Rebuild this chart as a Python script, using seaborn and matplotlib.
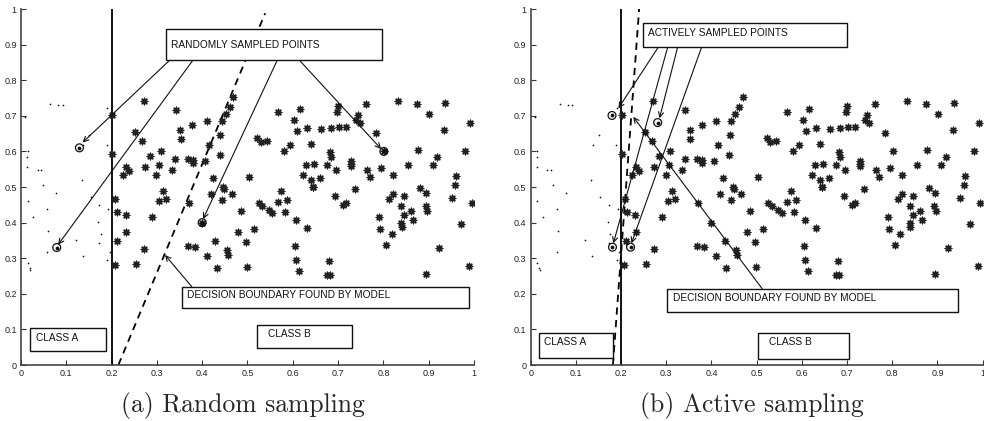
import matplotlib
matplotlib.use('Agg')
import matplotlib.pyplot as plt
from matplotlib.patches import Rectangle
import seaborn as sns
import pandas as pd

# class A points (small dots), left of the true boundary
class_a_x = [0.009, 0.064, 0.082, 0.092, 0.191, 0.151, 0.138, 0.189, 0.015, 0.013,
             0.014, 0.037, 0.044, 0.049, 0.134, 0.078, 0.154, 0.015, 0.173, 0.193,
             0.058, 0.027, 0.171, 0.060, 0.176, 0.121, 0.173, 0.058, 0.196, 0.136,
             0.191, 0.015, 0.019, 0.021]
class_a_y = [0.697, 0.733, 0.729, 0.729, 0.723, 0.647, 0.618, 0.617, 0.602, 0.583,
             0.555, 0.549, 0.549, 0.507, 0.520, 0.484, 0.473, 0.461, 0.450, 0.438,
             0.438, 0.415, 0.403, 0.376, 0.369, 0.352, 0.344, 0.318, 0.318, 0.306,
             0.295, 0.287, 0.272, 0.268]

# class B points (asterisks)
class_b_x = [0.202, 0.271, 0.342, 0.469, 0.461, 0.452, 0.444, 0.410, 0.378, 0.352,
             0.353, 0.252, 0.268, 0.440, 0.415, 0.202, 0.309, 0.284, 0.341, 0.369,
             0.379, 0.380, 0.406, 0.439, 0.305, 0.273, 0.232, 0.239, 0.225, 0.334,
             0.299, 0.425, 0.503, 0.447, 0.568, 0.522, 0.530, 0.542, 0.580, 0.594,
             0.616, 0.603, 0.609, 0.632, 0.662, 0.684, 0.703, 0.718, 0.700, 0.698,
             0.761, 0.745, 0.740, 0.748, 0.784, 0.833, 0.875, 0.936, 0.901, 0.991,
             0.934, 0.876, 0.980, 0.918, 0.909, 0.855, 0.795, 0.763, 0.770, 0.822,
             0.728, 0.728, 0.728, 0.695, 0.676, 0.682, 0.684, 0.641, 0.629, 0.646,
             0.622, 0.641, 0.661, 0.645, 0.960, 0.958, 0.881, 0.737, 0.801,
             0.208, 0.213, 0.231, 0.232, 0.212, 0.207, 0.255, 0.272, 0.290, 0.304,
             0.320, 0.313, 0.371, 0.419, 0.449, 0.444, 0.466, 0.400, 0.368, 0.384,
             0.429, 0.411, 0.433, 0.454, 0.457, 0.478, 0.497, 0.499, 0.486, 0.515,
             0.525, 0.533, 0.547, 0.555, 0.575, 0.568, 0.587, 0.583,
             0.644, 0.693, 0.711, 0.717, 0.608, 0.631, 0.605, 0.608, 0.613, 0.681,
             0.675, 0.683, 0.790, 0.793, 0.818, 0.806, 0.813, 0.822, 0.846, 0.839,
             0.845, 0.861, 0.839, 0.840, 0.866, 0.894, 0.893, 0.896, 0.951, 0.995,
             0.971, 0.923, 0.989, 0.895]
class_b_y = [0.703, 0.742, 0.717, 0.752, 0.726, 0.706, 0.686, 0.686, 0.673, 0.660,
             0.636, 0.654, 0.628, 0.647, 0.617, 0.594, 0.601, 0.588, 0.579, 0.579,
             0.576, 0.568, 0.574, 0.591, 0.562, 0.557, 0.555, 0.545, 0.535, 0.549,
             0.534, 0.525, 0.527, 0.499, 0.710, 0.639, 0.626, 0.628, 0.602, 0.617,
             0.718, 0.687, 0.656, 0.667, 0.662, 0.666, 0.669, 0.669, 0.728, 0.711,
             0.732, 0.701, 0.687, 0.680, 0.652, 0.742, 0.732, 0.735, 0.704, 0.681,
             0.659, 0.603, 0.601, 0.583, 0.562, 0.562, 0.552, 0.547, 0.527, 0.535,
             0.572, 0.565, 0.558, 0.548, 0.561, 0.598, 0.585, 0.622, 0.563, 0.565,
             0.534, 0.521, 0.525, 0.501, 0.531, 0.506, 0.498, 0.495, 0.600,
             0.467, 0.429, 0.420, 0.373, 0.349, 0.280, 0.285, 0.327, 0.417, 0.461,
             0.467, 0.490, 0.454, 0.479, 0.495, 0.463, 0.480, 0.400, 0.333, 0.331,
             0.349, 0.307, 0.273, 0.324, 0.310, 0.374, 0.346, 0.276, 0.433, 0.381,
             0.456, 0.447, 0.436, 0.426, 0.488, 0.457, 0.464, 0.431,
             0.499, 0.476, 0.450, 0.455, 0.407, 0.386, 0.333, 0.294, 0.263, 0.291,
             0.253, 0.254, 0.417, 0.383, 0.367, 0.337, 0.466, 0.480, 0.476, 0.448,
             0.421, 0.434, 0.399, 0.388, 0.407, 0.482, 0.447, 0.433, 0.470, 0.456,
             0.395, 0.330, 0.279, 0.255]

# points picked by each strategy (circled)
random_x = [0.129, 0.079, 0.400, 0.801]
random_y = [0.610, 0.330, 0.400, 0.600]
active_x = [0.180, 0.181, 0.221, 0.281]
active_y = [0.701, 0.331, 0.331, 0.681]

# true boundary and boundaries found by the model
true_boundary_x = 0.2
random_model_x = [0.215, 0.539]
random_model_y = [0.0, 0.988]
active_model_x = [0.182, 0.240]
active_model_y = [0.0, 1.0]

ticks = [0, 0.1, 0.2, 0.3, 0.4, 0.5, 0.6, 0.7, 0.8, 0.9, 1]
tick_labels = ['0', '0.1', '0.2', '0.3', '0.4', '0.5', '0.6', '0.7', '0.8', '0.9', '1']

sns.set_style('ticks')
plt.rcParams['font.family'] = ['Liberation Sans', 'DejaVu Sans']

df_a = pd.DataFrame({'x': class_a_x, 'y': class_a_y})
df_b = pd.DataFrame({'x': class_b_x, 'y': class_b_y})

fig = plt.figure(figsize=(9.84, 4.21), dpi=100)
ax1 = fig.add_axes([0.0213, 0.133, 0.4604, 0.8456])
ax2 = fig.add_axes([0.5393, 0.133, 0.4593, 0.8456])


def box(ax, x0, x1, y0, y1, label, tx, ty):
    ax.add_patch(Rectangle((x0, y0), x1 - x0, y1 - y0, fill=True, fc='white',
                           ec='#111111', lw=1.0, zorder=5, clip_on=False))
    ax.text(tx, ty, label, fontsize=7.3, va='center', ha='left', zorder=6, color='#111111')


def arrow(ax, start, end):
    ax.annotate('', xy=end, xytext=start, zorder=4,
                arrowprops=dict(arrowstyle='->', lw=0.8, color='#111111',
                                shrinkA=0, shrinkB=0, mutation_scale=9))


def panel(ax, sx, sy, mx, my, caption, cx):
    sns.scatterplot(data=df_a, x='x', y='y', ax=ax, marker='.', s=6, color='#111111',
                    linewidth=0, legend=False, zorder=3)
    sns.scatterplot(data=df_b, x='x', y='y', ax=ax, marker=(8, 2, 0), s=22,
                    color='#222222', edgecolor='#222222', linewidth=1.0, legend=False, zorder=3)
    ax.scatter(sx, sy, s=32, facecolors='none', edgecolors='#111111', linewidths=0.9, zorder=4)
    ax.scatter(sx, sy, s=3, color='#111111', zorder=4)
    ax.plot([true_boundary_x, true_boundary_x], [0, 1], color='black', lw=1.3, zorder=2)
    ax.plot(mx, my, color='black', lw=1.3, ls=(0, (4, 3)), zorder=2)
    ax.set_xlim(0, 1)
    ax.set_ylim(0, 1)
    ax.set_xticks(ticks)
    ax.set_xticklabels(tick_labels)
    ax.set_yticks(ticks)
    ax.set_yticklabels(tick_labels)
    ax.tick_params(direction='in', length=3.5, width=0.8, labelsize=6.5, pad=3,
                   color='#333333', labelcolor='#222222')
    ax.set_xlabel('')
    ax.set_ylabel('')
    for side in ['top', 'right']:
        ax.spines[side].set_visible(False)
    for side in ['left', 'bottom']:
        ax.spines[side].set_color('#444444')
        ax.spines[side].set_linewidth(1.2)
    fig.text(cx, 0.036, caption, fontfamily='cmr10', fontsize=18.5, ha='center', va='center')


panel(ax1, random_x, random_y, random_model_x, random_model_y, '(a) Random sampling', 0.2465)
box(ax1, 0.320, 0.798, 0.857, 0.944, 'RANDOMLY SAMPLED POINTS', 0.331, 0.899)
box(ax1, 0.355, 0.990, 0.159, 0.220, 'DECISION BOUNDARY FOUND BY MODEL', 0.367, 0.196)
box(ax1, 0.021, 0.188, 0.040, 0.103, 'CLASS A', 0.033, 0.077)
box(ax1, 0.522, 0.730, 0.049, 0.112, 'CLASS B', 0.546, 0.086)
arrow(ax1, (0.329, 0.857), (0.136, 0.625))
arrow(ax1, (0.380, 0.857), (0.082, 0.338))
arrow(ax1, (0.566, 0.857), (0.402, 0.410))
arrow(ax1, (0.614, 0.857), (0.795, 0.607))
arrow(ax1, (0.377, 0.220), (0.318, 0.309))

panel(ax2, active_x, active_y, active_model_x, active_model_y, '(b) Active sampling', 0.764)
box(ax2, 0.248, 0.699, 0.892, 0.960, 'ACTIVELY SAMPLED POINTS', 0.260, 0.934)
box(ax2, 0.302, 0.945, 0.148, 0.213, 'DECISION BOUNDARY FOUND BY MODEL', 0.314, 0.187)
box(ax2, 0.018, 0.183, 0.019, 0.089, 'CLASS A', 0.030, 0.064)
box(ax2, 0.504, 0.705, 0.016, 0.089, 'CLASS B', 0.528, 0.064)
arrow(ax2, (0.282, 0.892), (0.194, 0.721))
arrow(ax2, (0.303, 0.892), (0.183, 0.342))
arrow(ax2, (0.325, 0.892), (0.285, 0.693))
arrow(ax2, (0.378, 0.892), (0.223, 0.342))
arrow(ax2, (0.513, 0.213), (0.227, 0.697))

fig.savefig('out.png', dpi=100)
